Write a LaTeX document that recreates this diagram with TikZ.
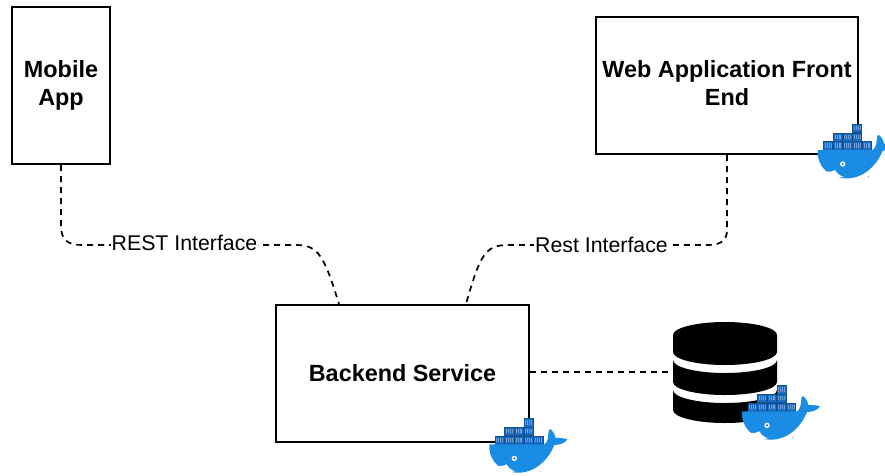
\documentclass[tikz,border=0pt]{standalone}
\usepackage{fontspec}
\setmainfont{Liberation Sans}
\definecolor{whaleblue}{HTML}{1B8CE3}
\definecolor{crateblue}{HTML}{1A6CC4}
\newcommand{\cratebox}[2]{
    \fill[crateblue] (#1-0.5,#2) rectangle +(28.5,25.5);
    \draw[crateblue!75!black, line width=0.3pt] (#1,#2) rectangle +(27.5,25);
    \draw[crateblue!65!white, line width=0.3pt] (#1+5,#2+6) -- +(0,13) (#1+11,#2+6) -- +(0,13) (#1+17,#2+6) -- +(0,13) (#1+22,#2+6) -- +(0,13);
}
\tikzset{
    boxnode/.style={draw, line width=2pt, minimum width=#1, inner sep=0pt, align=center, font=\fontsize{23.4}{28}\selectfont\bfseries},
    restlabel/.style={fill=white, inner sep=1pt, font=\fontsize{21.3}{25}\selectfont},
    link/.style={line width=1.7pt, dash pattern=on 6pt off 5pt},
    whale/.pic={
        % stack of crates
        \cratebox{17}{-80}
        \cratebox{-41}{-54}
        \cratebox{-12}{-54}
        \cratebox{17}{-54}
        \cratebox{-70}{-28}
        \cratebox{-41}{-28}
        \cratebox{-12}{-28}
        \cratebox{17}{-28}
        \cratebox{46}{-28}
        % hull and tail
        \fill[whaleblue] (-87,-2) -- (78,-2) .. controls (88,-8) and (90,-25) .. (90,-32)
            .. controls (90,-40) and (92,-46) .. (95,-48) .. controls (103,-44) and (110,-32) .. (112,-21)
            .. controls (124,-22) and (138,-20) .. (147,-17) .. controls (140,-6) and (125,0) .. (108,0)
            .. controls (90,45) and (50,83) .. (0,83) .. controls (-50,83) and (-90,50) .. (-87,-2) -- cycle;
        % belly and eye
        \fill[white] (-65,62) .. controls (-55,65) and (-45,63) .. (-35,58) .. controls (-30,68) and (-20,76) .. (-8,79)
            .. controls (-30,84) and (-50,78) .. (-65,62) -- cycle;
        \fill[white] (-12,40) circle (8);
        \fill[crateblue] (-12,40) circle (3.5);
        \fill[crateblue] (65,78) circle (1.5);
    }
}
\begin{document}
\begin{tikzpicture}[x=1pt, y=-1pt]
    \useasboundingbox (0,0) rectangle (885,475);

    \node[boxnode=98pt, minimum height=157pt] (mobile) at (61,85.5) {Mobile\\App};
    \node[boxnode=262pt, minimum height=137pt] (web) at (727,85.5) {Web Application Front\\End\vphantom{p}};
    \node[boxnode=253pt, minimum height=137pt] (backend) at (402.5,373.5) {Backend Service};

    \coordinate (backendleft) at (339,304);
    \coordinate (backendright) at (466,304);
    \coordinate (database) at (671,372);

    \draw[link] (mobile.south) -- (61,226) .. controls (61,240) and (68,245) .. (82,245) -- (296,245)
        .. controls (318,245) and (324,255) .. (backendleft);
    \draw[link] (web.south) -- (727,230) .. controls (727,241) and (720,245) .. (708,245) -- (508,245)
        .. controls (485,245) and (480,255) .. (backendright);
    \draw[link] (backend.east |- database) -- (database);

    \node[restlabel] (restmobile) at (184.5,243) {REST Interface};
    \node[restlabel] (restweb) at (601.5,245) {Rest Interface};

    % database
    \fill (673,335) arc (180:360:52 and 13) -- (777,352) arc (0:180:52 and 13) -- cycle;
    \fill (673,360) arc (180:0:52 and 13) -- (777,382) arc (0:180:52 and 13) -- cycle;
    \fill (673,390) arc (180:0:52 and 13) -- (777,410) arc (0:180:52 and 13) -- cycle;

    \begin{scope}
        \clip (0,0) rectangle (885,475);
        \pic[scale=1/3] at (846.7,150.7) {whale};
    \end{scope}
    \pic[scale=1/3] at (771,412) {whale};
    \pic[scale=1/3] at (518.3,445) {whale};
\end{tikzpicture}
\end{document}
